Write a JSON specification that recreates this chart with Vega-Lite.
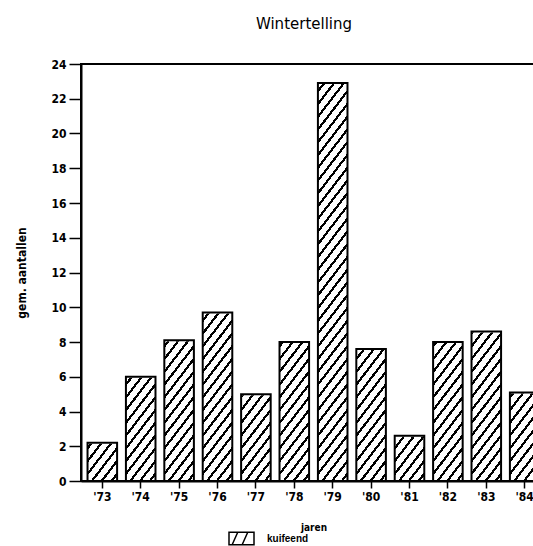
{
  "$schema": "https://vega.github.io/schema/vega-lite/v6.json",
  "autosize": {"type": "none"},
  "width": 452,
  "height": 417,
  "padding": {"left": 81, "top": 64, "right": 0, "bottom": 65},
  "background": "white",
  "title": {"text": "Wintertelling", "font": "DejaVu Sans", "fontSize": 15, "fontWeight": "normal", "color": "black", "anchor": "middle", "dx": -3, "offset": 11, "baseline": "bottom"},
  "config": {
    "view": {"stroke": "black", "strokeWidth": 2},
    "axis": {"domainColor": "black", "tickColor": "black", "labelColor": "black", "titleColor": "black", "grid": false, "domainWidth": 2, "tickWidth": 1.5, "labelFont": "Liberation Sans Narrow, DejaVu Sans Condensed, Liberation Sans", "labelFontWeight": "bold", "labelFontSize": 12, "titleFont": "Liberation Sans Narrow, DejaVu Sans Condensed, Liberation Sans", "titleFontWeight": "bold"},
    "axisY": {"values": [0, 2, 4, 6, 8, 10, 12, 14, 16, 18, 20, 22, 24], "labelOverlap": false, "tickSize": 12, "labelPadding": 3, "titleFontSize": 12, "titlePadding": 22}
  },
  "data": {"values": [
    {"jaar": "'73", "aantal": 2.2, "soort": "kuifeend"},
    {"jaar": "'74", "aantal": 6.0, "soort": "kuifeend"},
    {"jaar": "'75", "aantal": 8.1, "soort": "kuifeend"},
    {"jaar": "'76", "aantal": 9.7, "soort": "kuifeend"},
    {"jaar": "'77", "aantal": 5.0, "soort": "kuifeend"},
    {"jaar": "'78", "aantal": 8.0, "soort": "kuifeend"},
    {"jaar": "'79", "aantal": 22.9, "soort": "kuifeend"},
    {"jaar": "'80", "aantal": 7.6, "soort": "kuifeend"},
    {"jaar": "'81", "aantal": 2.6, "soort": "kuifeend"},
    {"jaar": "'82", "aantal": 8.0, "soort": "kuifeend"},
    {"jaar": "'83", "aantal": 8.6, "soort": "kuifeend"},
    {"jaar": "'84", "aantal": 5.1, "soort": "kuifeend"}
  ]},
  "encoding": {
    "x": {"field": "jaar", "type": "ordinal", "sort": null,
      "scale": {"range": [0, 465], "paddingInner": 0.23, "paddingOuter": 0.17},
      "axis": {"title": "jaren", "labelAngle": 0, "tickSize": 7, "labelPadding": 3, "titleFontSize": 10, "titlePadding": 20}}
  },
  "layer": [
    {
      "mark": {"type": "bar", "clip": true, "strokeWidth": 0, "fill": {"gradient": "linear", "x1": 0, "y1": 0, "x2": 0.1, "y2": 1.083, "stops": [
        {"offset": 0, "color": "black"}, {"offset": 0.008, "color": "black"}, {"offset": 0.008, "color": "white"}, {"offset": 0.028, "color": "white"},
        {"offset": 0.028, "color": "black"}, {"offset": 0.036, "color": "black"}, {"offset": 0.036, "color": "white"}, {"offset": 0.056, "color": "white"},
        {"offset": 0.056, "color": "black"}, {"offset": 0.064, "color": "black"}, {"offset": 0.064, "color": "white"}, {"offset": 0.084, "color": "white"},
        {"offset": 0.084, "color": "black"}, {"offset": 0.092, "color": "black"}, {"offset": 0.092, "color": "white"}, {"offset": 0.112, "color": "white"},
        {"offset": 0.112, "color": "black"}, {"offset": 0.12, "color": "black"}, {"offset": 0.12, "color": "white"}, {"offset": 0.14, "color": "white"},
        {"offset": 0.14, "color": "black"}, {"offset": 0.148, "color": "black"}, {"offset": 0.148, "color": "white"}, {"offset": 0.168, "color": "white"},
        {"offset": 0.168, "color": "black"}, {"offset": 0.176, "color": "black"}, {"offset": 0.176, "color": "white"}, {"offset": 0.196, "color": "white"},
        {"offset": 0.196, "color": "black"}, {"offset": 0.204, "color": "black"}, {"offset": 0.204, "color": "white"}, {"offset": 0.224, "color": "white"},
        {"offset": 0.224, "color": "black"}, {"offset": 0.232, "color": "black"}, {"offset": 0.232, "color": "white"}, {"offset": 0.252, "color": "white"},
        {"offset": 0.252, "color": "black"}, {"offset": 0.26, "color": "black"}, {"offset": 0.26, "color": "white"}, {"offset": 0.28, "color": "white"},
        {"offset": 0.28, "color": "black"}, {"offset": 0.288, "color": "black"}, {"offset": 0.288, "color": "white"}, {"offset": 0.308, "color": "white"},
        {"offset": 0.308, "color": "black"}, {"offset": 0.316, "color": "black"}, {"offset": 0.316, "color": "white"}, {"offset": 0.336, "color": "white"},
        {"offset": 0.336, "color": "black"}, {"offset": 0.344, "color": "black"}, {"offset": 0.344, "color": "white"}, {"offset": 0.364, "color": "white"},
        {"offset": 0.364, "color": "black"}, {"offset": 0.372, "color": "black"}, {"offset": 0.372, "color": "white"}, {"offset": 0.392, "color": "white"},
        {"offset": 0.392, "color": "black"}, {"offset": 0.4, "color": "black"}, {"offset": 0.4, "color": "white"}, {"offset": 0.42, "color": "white"},
        {"offset": 0.42, "color": "black"}, {"offset": 0.428, "color": "black"}, {"offset": 0.428, "color": "white"}, {"offset": 0.448, "color": "white"},
        {"offset": 0.448, "color": "black"}, {"offset": 0.456, "color": "black"}, {"offset": 0.456, "color": "white"}, {"offset": 0.476, "color": "white"},
        {"offset": 0.476, "color": "black"}, {"offset": 0.484, "color": "black"}, {"offset": 0.484, "color": "white"}, {"offset": 0.504, "color": "white"},
        {"offset": 0.504, "color": "black"}, {"offset": 0.512, "color": "black"}, {"offset": 0.512, "color": "white"}, {"offset": 0.532, "color": "white"},
        {"offset": 0.532, "color": "black"}, {"offset": 0.54, "color": "black"}, {"offset": 0.54, "color": "white"}, {"offset": 0.56, "color": "white"},
        {"offset": 0.56, "color": "black"}, {"offset": 0.568, "color": "black"}, {"offset": 0.568, "color": "white"}, {"offset": 0.588, "color": "white"},
        {"offset": 0.588, "color": "black"}, {"offset": 0.596, "color": "black"}, {"offset": 0.596, "color": "white"}, {"offset": 0.616, "color": "white"},
        {"offset": 0.616, "color": "black"}, {"offset": 0.624, "color": "black"}, {"offset": 0.624, "color": "white"}, {"offset": 0.644, "color": "white"},
        {"offset": 0.644, "color": "black"}, {"offset": 0.652, "color": "black"}, {"offset": 0.652, "color": "white"}, {"offset": 0.672, "color": "white"},
        {"offset": 0.672, "color": "black"}, {"offset": 0.68, "color": "black"}, {"offset": 0.68, "color": "white"}, {"offset": 0.7, "color": "white"},
        {"offset": 0.7, "color": "black"}, {"offset": 0.708, "color": "black"}, {"offset": 0.708, "color": "white"}, {"offset": 0.728, "color": "white"},
        {"offset": 0.728, "color": "black"}, {"offset": 0.736, "color": "black"}, {"offset": 0.736, "color": "white"}, {"offset": 0.756, "color": "white"},
        {"offset": 0.756, "color": "black"}, {"offset": 0.764, "color": "black"}, {"offset": 0.764, "color": "white"}, {"offset": 0.784, "color": "white"},
        {"offset": 0.784, "color": "black"}, {"offset": 0.792, "color": "black"}, {"offset": 0.792, "color": "white"}, {"offset": 0.812, "color": "white"},
        {"offset": 0.812, "color": "black"}, {"offset": 0.82, "color": "black"}, {"offset": 0.82, "color": "white"}, {"offset": 0.84, "color": "white"},
        {"offset": 0.84, "color": "black"}, {"offset": 0.848, "color": "black"}, {"offset": 0.848, "color": "white"}, {"offset": 0.868, "color": "white"},
        {"offset": 0.868, "color": "black"}, {"offset": 0.876, "color": "black"}, {"offset": 0.876, "color": "white"}, {"offset": 0.896, "color": "white"},
        {"offset": 0.896, "color": "black"}, {"offset": 0.904, "color": "black"}, {"offset": 0.904, "color": "white"}, {"offset": 0.924, "color": "white"},
        {"offset": 0.924, "color": "black"}, {"offset": 0.932, "color": "black"}, {"offset": 0.932, "color": "white"}, {"offset": 0.952, "color": "white"},
        {"offset": 0.952, "color": "black"}, {"offset": 0.96, "color": "black"}, {"offset": 0.96, "color": "white"}, {"offset": 0.98, "color": "white"},
        {"offset": 0.98, "color": "black"}, {"offset": 0.988, "color": "black"}, {"offset": 0.988, "color": "white"}, {"offset": 1, "color": "white"}
      ]}},
      "encoding": {
        "y": {"datum": 24, "type": "quantitative", "title": "gem. aantallen", "scale": {"domain": [0, 24], "nice": false}}
      }
    },
    {
      "mark": {"type": "bar", "clip": true, "fill": "white", "stroke": "white", "strokeWidth": 2},
      "encoding": {
        "y": {"field": "aantal", "type": "quantitative", "title": "gem. aantallen", "scale": {"domain": [0, 24], "nice": false}},
        "y2": {"datum": 24}
      }
    },
    {
      "mark": {"type": "rule", "clip": true, "stroke": "black", "strokeWidth": 2},
      "encoding": {"x": null, "y": {"datum": 24, "type": "quantitative", "title": "gem. aantallen"}}
    },
    {
      "mark": {"type": "bar", "clip": true, "fill": "transparent", "strokeWidth": 2},
      "encoding": {
        "y": {"field": "aantal", "type": "quantitative", "title": "gem. aantallen", "scale": {"domain": [0, 24], "nice": false}},
        "stroke": {"field": "soort", "type": "nominal", "scale": {"range": ["black"]},
          "legend": {"orient": "none", "legendX": 147, "legendY": 461, "title": null, "padding": 0, "symbolType": "M-1,-0.5H1V0.5H-1Z M-0.75,0.5L-0.3,-0.5 M0.05,0.5L0.5,-0.5", "symbolSize": 625, "symbolStrokeWidth": 1.5, "symbolFillColor": "white", "labelFont": "Liberation Sans", "labelFontWeight": "bold", "labelFontSize": 10, "labelColor": "black", "labelOffset": 12}}
      }
    }
  ]
}
